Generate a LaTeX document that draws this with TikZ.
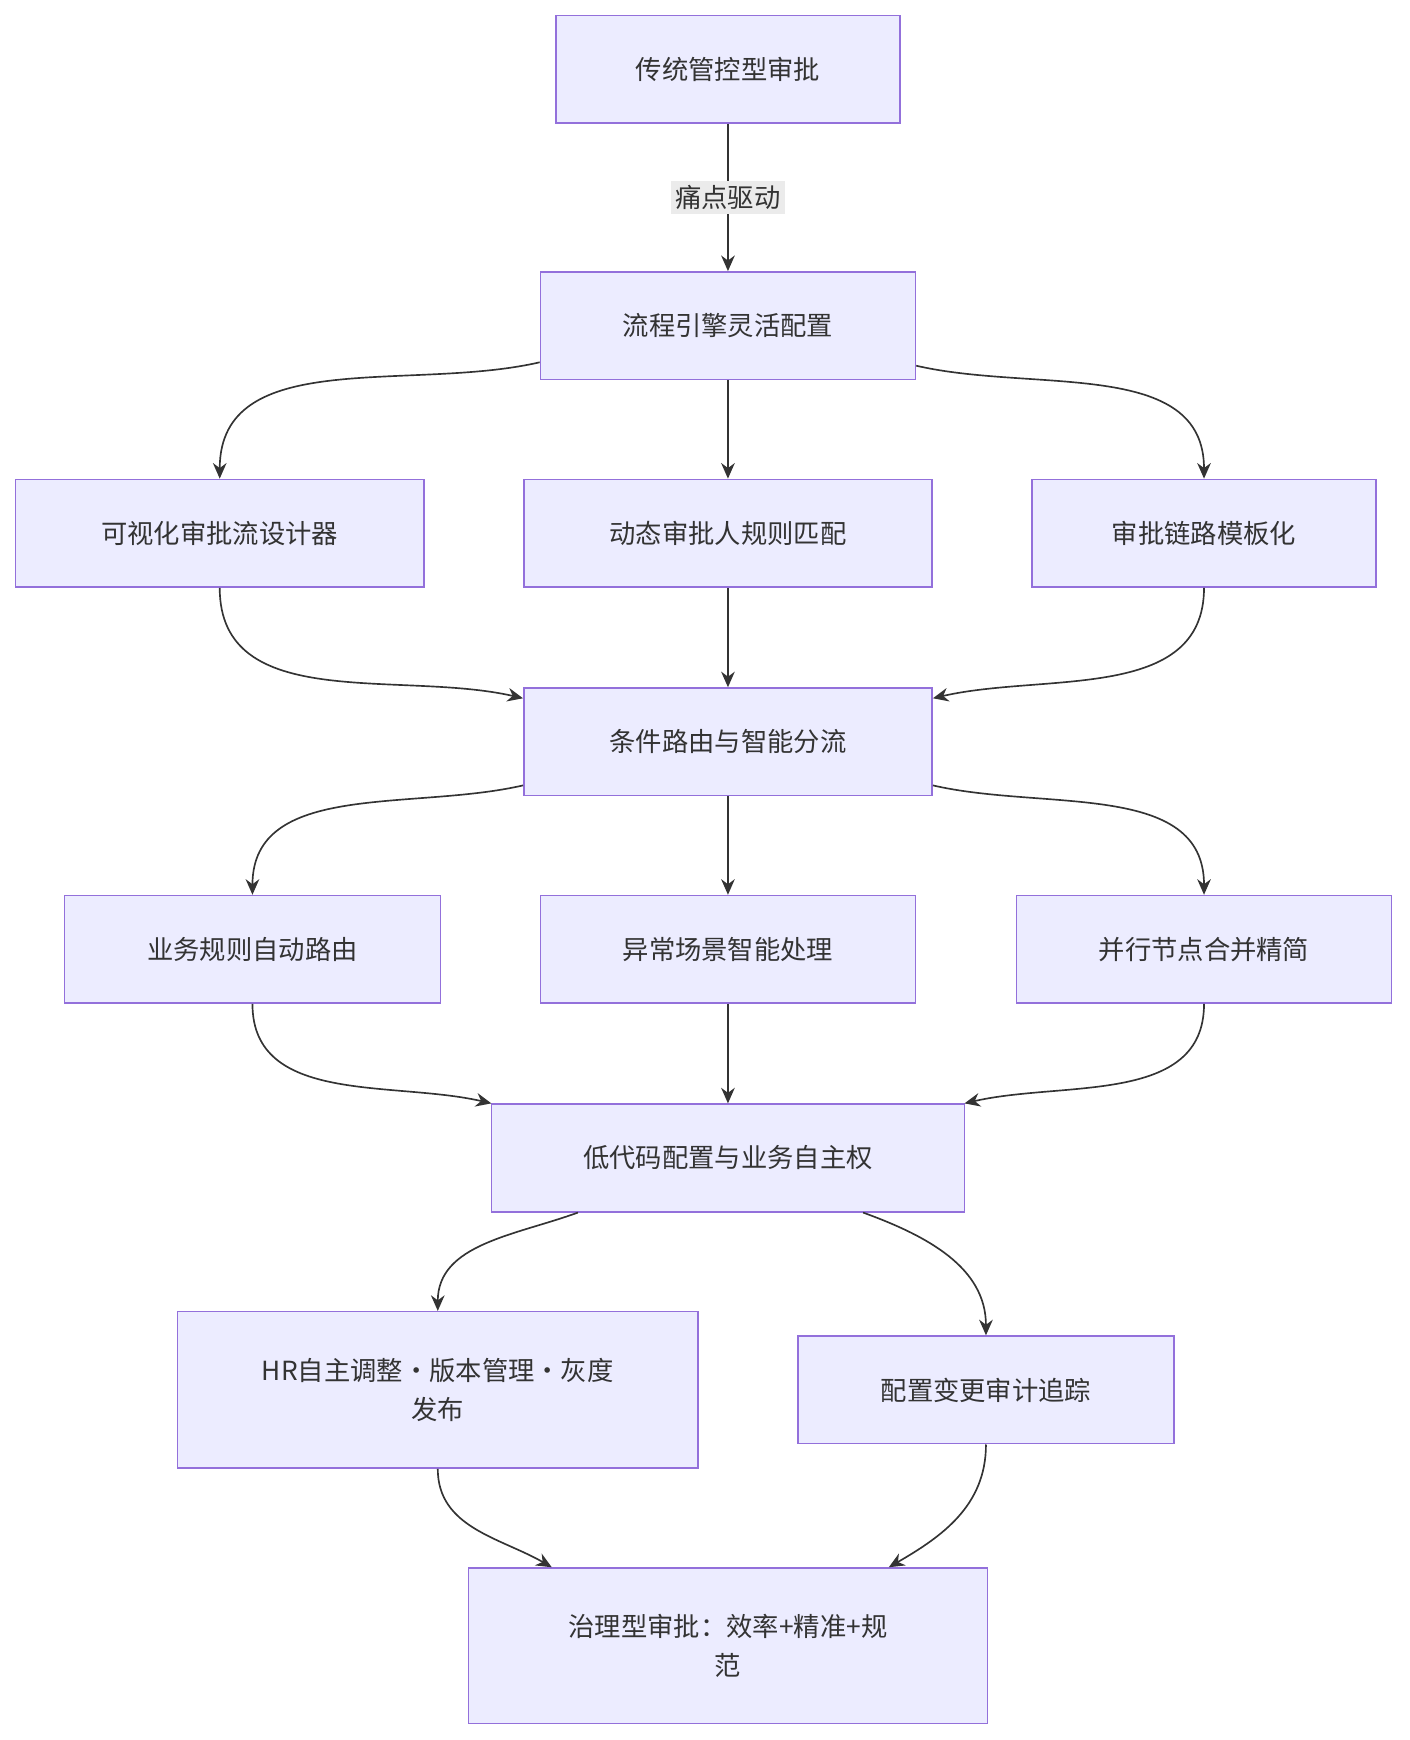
\documentclass[tikz,border=0pt]{standalone}
\usepackage{fontspec}
\setmainfont{Noto Sans CJK SC}
\usetikzlibrary{arrows.meta, positioning}
\definecolor{boxfill}{HTML}{ECECFF}
\definecolor{boxline}{HTML}{9370DB}
\definecolor{ink}{HTML}{333333}
\begin{document}
\begin{tikzpicture}[
    x=0.02cm, y=-0.02cm,
    >={Stealth[length=8pt, width=7pt]},
    box/.style={draw=boxline, fill=boxfill, line width=0.8pt, text=ink, font=\fontsize{13.5pt}{20pt}\selectfont, align=center, minimum height=1.94cm, inner sep=2pt},
    flow/.style={->, ink, line width=0.85pt},
    edgelabel/.style={fill=black!8, text=ink, font=\fontsize{13.5pt}{18pt}\selectfont, inner sep=2pt}
]
    \useasboundingbox (0,0) rectangle (1270,1568);

    \node[box, minimum width=6.2cm]  (Trad)    at (656,62.5)    {传统管控型审批};
    \node[box, minimum width=6.76cm] (Engine)  at (656,293.5)   {流程引擎灵活配置};
    \node[box, minimum width=7.36cm] (Visual)  at (198,480.5)   {可视化审批流设计器};
    \node[box, minimum width=7.36cm] (Dynamic) at (656,480.5)   {动态审批人规则匹配};
    \node[box, minimum width=6.2cm]  (Tmpl)    at (1085,480.5)  {审批链路模板化};
    \node[box, minimum width=7.36cm] (Route)   at (656,668.5)   {条件路由与智能分流};
    \node[box, minimum width=6.78cm] (Rule)    at (227.5,855.5) {业务规则自动路由};
    \node[box, minimum width=6.76cm] (Except)  at (656,855.5)   {异常场景智能处理};
    \node[box, minimum width=6.76cm] (Merge)   at (1085,855.5)  {并行节点合并精简};
    \node[box, minimum width=8.52cm] (LowCode) at (656,1043.5)  {低代码配置与业务自主权};
    \node[box, minimum width=9.38cm, minimum height=2.82cm] (HR) at (394.5,1252.5) {HR自主调整·版本管理·灰度\\发布};
    \node[box, minimum width=6.78cm] (Audit)   at (888.5,1252.5) {配置变更审计追踪};
    \node[box, minimum width=9.36cm, minimum height=2.8cm] (Gov) at (656,1483) {治理型审批：效率+精准+规\\范};

    \draw[flow] (Trad) -- (Engine) node[edgelabel, midway] {痛点驱动};

    \draw[flow] (Engine.191) to[out=193, in=90] (Visual.north);
    \draw[flow] (Engine) -- (Dynamic);
    \draw[flow] (Engine.-12) to[out=-13, in=90] (Tmpl.north);

    \draw[flow] (Visual.south) to[out=-90, in=167] (Route.168);
    \draw[flow] (Dynamic) -- (Route);
    \draw[flow] (Tmpl.south) to[out=-90, in=13] (Route.12);

    \draw[flow] (Route.192) to[out=193, in=90] (Rule.north);
    \draw[flow] (Route) -- (Except);
    \draw[flow] (Route.-12) to[out=-13, in=90] (Merge.north);

    \draw[flow] (Rule.south) to[out=-90, in=167] (LowCode.167);
    \draw[flow] (Except) -- (LowCode);
    \draw[flow] (Merge.south) to[out=-90, in=13] (LowCode.13);

    \draw[flow] (LowCode.-160) to[out=200, in=90] (HR.north);
    \draw[flow] (LowCode.-22) to[out=-20, in=90] (Audit.north);

    \draw[flow] (HR.south) to[out=-90, in=150] (Gov.156);
    \draw[flow] (Audit.south) to[out=-90, in=30] (Gov.26);
\end{tikzpicture}
\end{document}
